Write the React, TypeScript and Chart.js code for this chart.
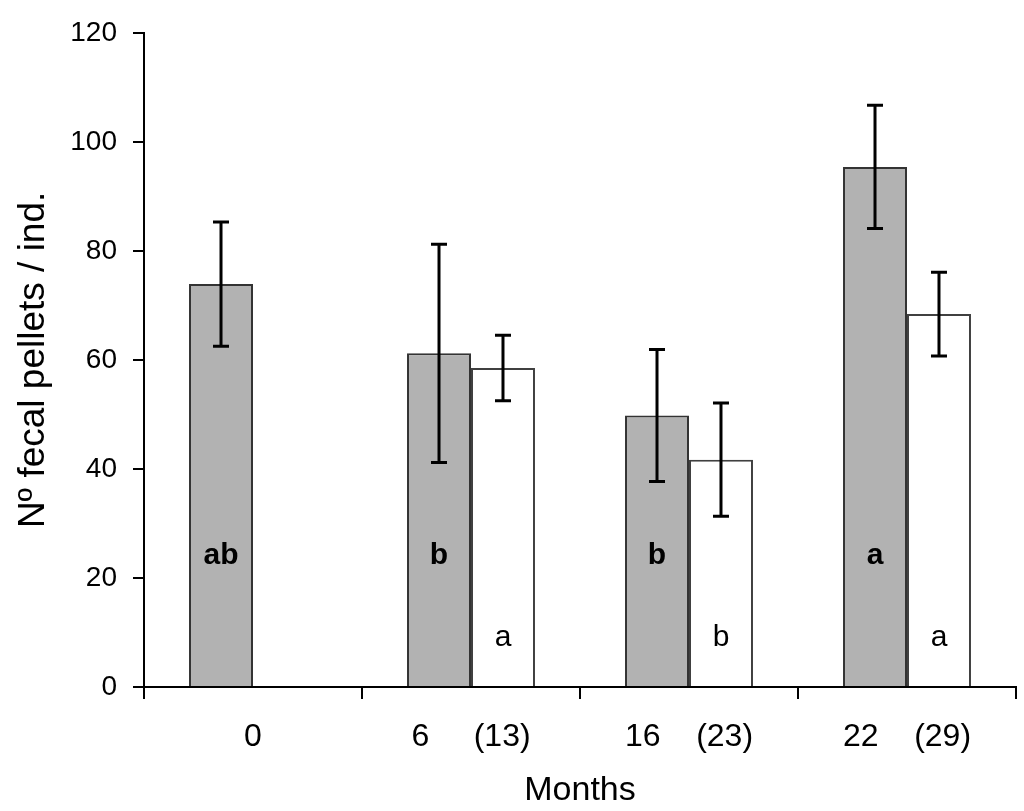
import React, { useEffect, useRef } from 'react';
import { Chart, registerables } from 'chart.js';

Chart.register(...registerables);

const categories = ['0', '6     (13)', '16    (23)', '22    (29)'];
const greyMeans = [73.9, 61.2, 49.8, 95.4];
const greyErr = [11.4, 20.0, 12.1, 11.3];
const whiteMeans: (number | null)[] = [null, 58.5, 41.7, 68.4];
const whiteErr: (number | null)[] = [null, 6.0, 10.4, 7.7];
const greyLetters = ['ab', 'b', 'b', 'a'];
const whiteLetters = ['', 'a', 'b', 'a'];
const greyLetterLevel = 24;
const whiteLetterLevel = 9;

const FONT = "Arial, 'Liberation Sans', sans-serif";

const overlayPlugin = {
  id: 'overlay',
  afterDatasetsDraw(chart: any) {
    const ctx = chart.ctx;
    const y = chart.scales.y;
    const errs = [greyErr, whiteErr];
    const means = [greyMeans, whiteMeans];
    const letters = [greyLetters, whiteLetters];
    const levels = [greyLetterLevel, whiteLetterLevel];
    ctx.save();
    ctx.fillStyle = '#000';
    ctx.textAlign = 'center';
    ctx.textBaseline = 'middle';
    for (let d = 0; d < 2; d++) {
      const meta = chart.getDatasetMeta(d);
      ctx.font = (d === 0 ? 'bold ' : '') + '30px ' + FONT;
      meta.data.forEach((bar: any, i: number) => {
        const t = letters[d][i];
        if (!t || means[d][i] == null) return;
        ctx.fillText(t, bar.x, y.getPixelForValue(levels[d]));
      });
    }
    ctx.strokeStyle = '#000';
    ctx.lineWidth = 3;
    ctx.lineCap = 'butt';
    for (let d = 0; d < 2; d++) {
      const meta = chart.getDatasetMeta(d);
      meta.data.forEach((bar: any, i: number) => {
        const m = means[d][i];
        const e = errs[d][i];
        if (m == null || e == null) return;
        const top = y.getPixelForValue(m + e);
        const bot = y.getPixelForValue(m - e);
        const x = bar.x;
        ctx.beginPath();
        ctx.moveTo(x, top);
        ctx.lineTo(x, bot);
        ctx.moveTo(x - 8, top);
        ctx.lineTo(x + 8, top);
        ctx.moveTo(x - 8, bot);
        ctx.lineTo(x + 8, bot);
        ctx.stroke();
      });
    }
    ctx.restore();
  },
};

export default function App() {
  const ref = useRef<HTMLCanvasElement>(null);
  useEffect(() => {
    if (!ref.current) return;
    const chart = new Chart(ref.current, {
      type: 'bar',
      data: {
        labels: categories,
        datasets: [
          {
            data: greyMeans,
            backgroundColor: '#b2b2b2',
            borderColor: '#333333',
            borderWidth: 2,
            categoryPercentage: 0.587,
            barPercentage: 1,
          },
          {
            data: whiteMeans,
            backgroundColor: '#ffffff',
            borderColor: '#404040',
            borderWidth: 2,
            categoryPercentage: 0.587,
            barPercentage: 1,
          },
        ],
      },
      options: {
        animation: false,
        responsive: true,
        maintainAspectRatio: false,
        layout: { padding: { top: 31, right: 8, bottom: 0, left: 0 } },
        plugins: {
          legend: { display: false },
          tooltip: { enabled: false },
        },
        scales: {
          x: {
            afterFit: (s: any) => {
              s.height = 124;
            },
            grid: {
              offset: true,
              drawOnChartArea: false,
              drawTicks: true,
              tickLength: 12,
              color: '#000',
              lineWidth: 2,
            },
            border: { display: true, color: '#000', width: 2 },
            ticks: {
              color: '#000',
              font: { family: FONT, size: 32 },
              padding: 19,
              maxRotation: 0,
              autoSkip: false,
            },
            title: {
              display: true,
              text: 'Months',
              color: '#000',
              font: { family: FONT, size: 34 },
              padding: { top: 12, bottom: 0 },
            },
          },
          y: {
            min: 0,
            max: 120,
            afterFit: (s: any) => {
              s.width = 144;
            },
            grid: {
              drawOnChartArea: false,
              drawTicks: true,
              tickLength: 11,
              color: '#000',
              lineWidth: 2,
            },
            border: { display: true, color: '#000', width: 2 },
            ticks: {
              stepSize: 20,
              color: '#000',
              font: { family: FONT, size: 28 },
              padding: 16,
            },
            title: {
              display: true,
              text: 'Nº fecal pellets / ind.',
              color: '#000',
              font: { family: FONT, size: 37 },
              padding: { top: 12, bottom: 0 },
            },
          },
        },
      },
      plugins: [overlayPlugin],
    });
    return () => chart.destroy();
  }, []);
  return (
    <div style={{ position: 'absolute', left: 0, top: 0, width: 1024, height: 811, background: '#fff' }}>
      <canvas ref={ref} />
    </div>
  );
}
